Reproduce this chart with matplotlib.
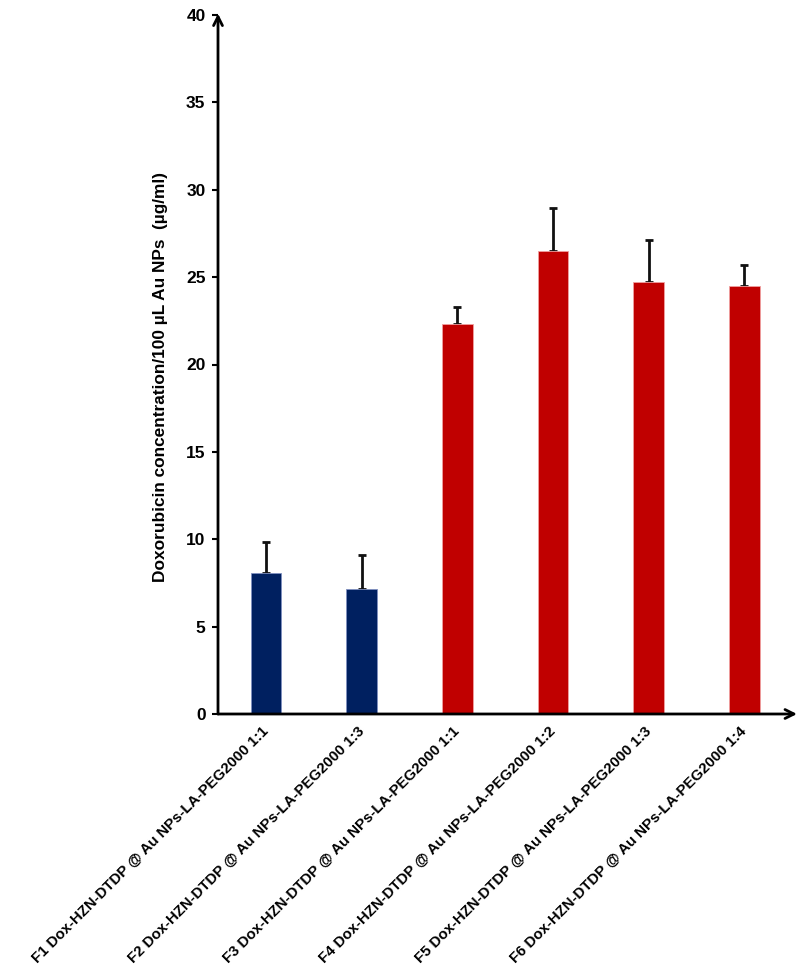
import matplotlib
matplotlib.use('Agg')
import matplotlib.pyplot as plt
import numpy as np

plt.rcParams['font.family'] = ['Liberation Sans', 'DejaVu Sans']
plt.rcParams['font.weight'] = 'bold'

labels = ['F1 Dox-HZN-DTDP @ Au NPs-LA-PEG2000 1:1',
          'F2 Dox-HZN-DTDP @ Au NPs-LA-PEG2000 1:3',
          'F3 Dox-HZN-DTDP @ Au NPs-LA-PEG2000 1:1',
          'F4 Dox-HZN-DTDP @ Au NPs-LA-PEG2000 1:2',
          'F5 Dox-HZN-DTDP @ Au NPs-LA-PEG2000 1:3',
          'F6 Dox-HZN-DTDP @ Au NPs-LA-PEG2000 1:4']
values = [8.05, 7.13, 22.3, 26.5, 24.7, 24.5]
errors = [1.77, 1.95, 1.0, 2.45, 2.4, 1.2]
colors = ['#002060', '#002060', '#C00000', '#C00000', '#C00000', '#C00000']
edges = ['#8090c0', '#8090c0', '#f0a0a0', '#f0a0a0', '#f0a0a0', '#f0a0a0']

fig = plt.figure(figsize=(8, 9.76), dpi=100)
ax = fig.add_axes([218/800, 262/976, (797-218)/800, (714-15)/976])

x = np.arange(len(values))
ax.bar(x, values, width=0.32, color=colors, edgecolor=edges, linewidth=0.6, zorder=2)
# error bars behind the bars so only the upper whisker shows
ax.errorbar(x, values, yerr=[np.zeros(len(errors)), errors], fmt='none',
            ecolor='#111111', elinewidth=2, capsize=3, capthick=2, zorder=1)

ax.set_xlim(-0.502, 5.55)
ax.set_ylim(0, 40)
ax.set_yticks(np.arange(0, 41, 5))
ax.tick_params(axis='y', direction='out', length=4, width=1.5, labelsize=12.5, pad=5)
ax.tick_params(axis='x', length=0, pad=11)
ax.set_xticks(x)
ax.set_xticklabels(labels, rotation=45, ha='right', va='center', rotation_mode='anchor',
                   fontsize=10.8, fontweight='bold')
for t in ax.get_yticklabels():
    t.set_fontweight('bold')

for s in ['top', 'right', 'left', 'bottom']:
    ax.spines[s].set_visible(False)

# axes with arrow heads
ax.annotate('', xy=(1, 0), xytext=(0, 0), xycoords='axes fraction',
            arrowprops=dict(arrowstyle='->', lw=2, color='black', mutation_scale=16,
                            shrinkA=0, shrinkB=0), annotation_clip=False)
ax.annotate('', xy=(0, 1.002), xytext=(0, 0), xycoords='axes fraction',
            arrowprops=dict(arrowstyle='->', lw=2, color='black', mutation_scale=16,
                            shrinkA=0, shrinkB=0), annotation_clip=False)

ax.set_ylabel('Doxorubicin concentration/100 \u00b5L Au NPs  (\u00b5g/ml)',
              fontsize=12.4, fontweight='bold')
ax.yaxis.set_label_coords(-0.0864, 0.482)

fig.savefig('out.png', dpi=100)
